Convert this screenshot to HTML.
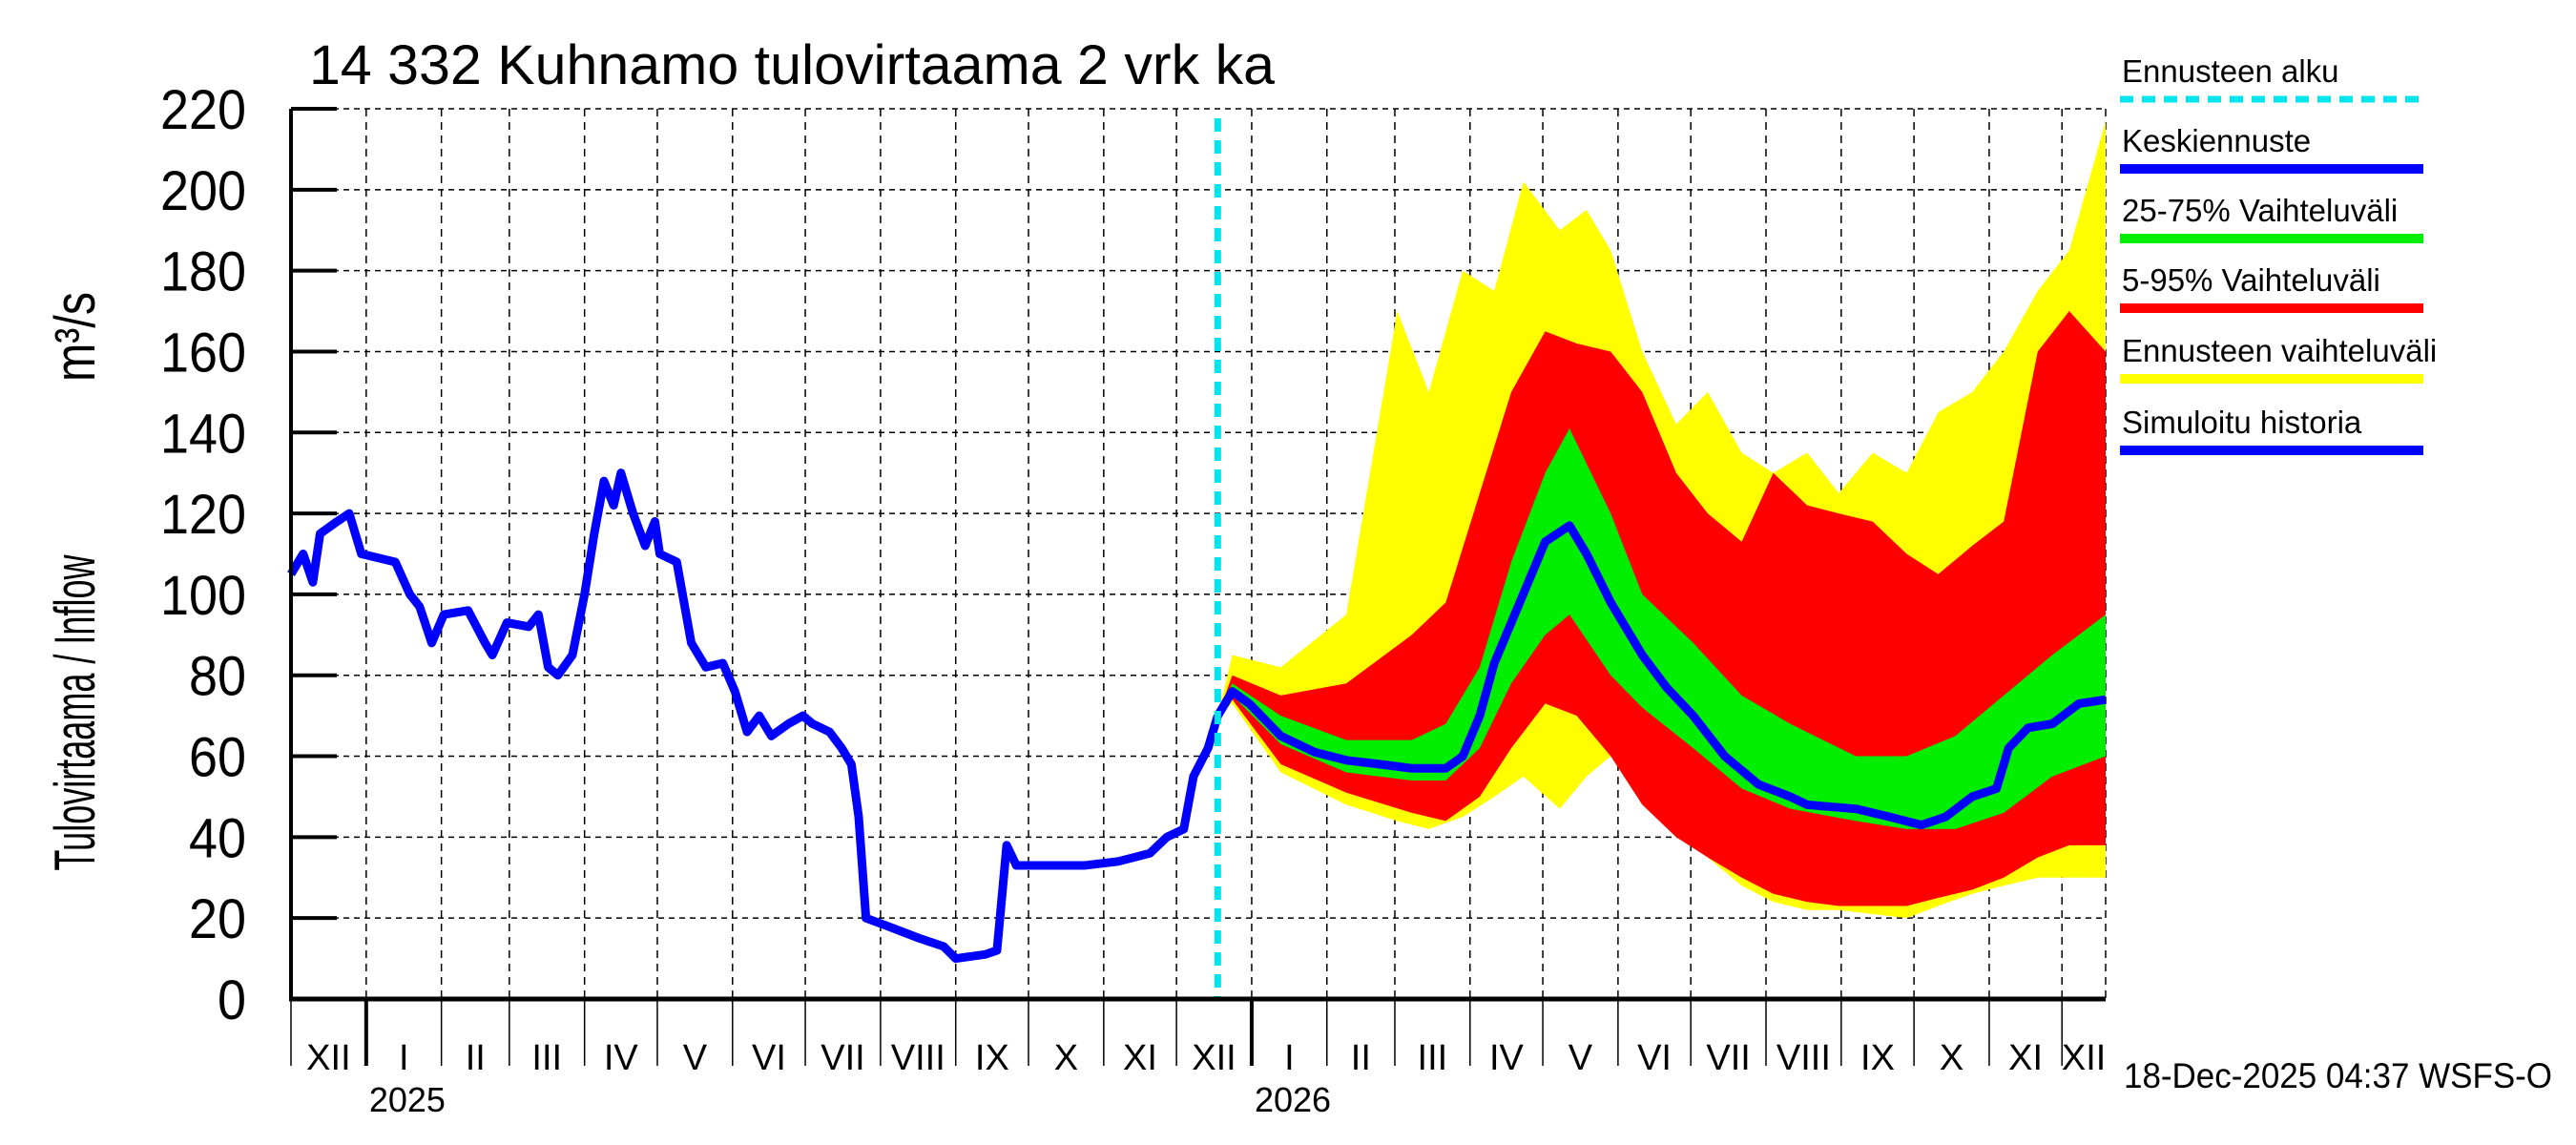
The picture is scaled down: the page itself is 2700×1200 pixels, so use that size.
<!DOCTYPE html>
<html><head><meta charset="utf-8"><style>
body{margin:0;background:#fff}
svg{display:block;font-family:"Liberation Sans",sans-serif}
</style></head><body>
<svg id="chart" width="2700" height="1200" viewBox="0 0 2700 1200" xmlns="http://www.w3.org/2000/svg">
<text x="324" y="88" font-size="58" textLength="1012" lengthAdjust="spacingAndGlyphs">14 332 Kuhnamo tulovirtaama 2 vrk ka</text>
<text transform="translate(99,747) rotate(-90)" text-anchor="middle" font-size="60" textLength="331" lengthAdjust="spacingAndGlyphs">Tulovirtaama / Inflow</text>
<text transform="translate(99,353) rotate(-90)" text-anchor="middle" font-size="60" textLength="94" lengthAdjust="spacingAndGlyphs">m³/s</text>
<text x="2226" y="1140" font-size="37" textLength="449" lengthAdjust="spacingAndGlyphs">18-Dec-2025 04:37 WSFS-O</text>
<g id="grid"></g><g id="bands"></g><g id="lines"></g><g id="axes"></g><g id="legend"></g>
</svg>
<script>
const yTicks=[0,20,40,60,80,100,120,140,160,180,200,220];
const monthLabels=["XII","I","II","III","IV","V","VI","VII","VIII","IX","X","XI","XII","I","II","III","IV","V","VI","VII","VIII","IX","X","XI","XII"];
const monthStarts=[0,31,62,90,121,151,182,212,243,274,304,335,365,396,427,455,486,516,547,577,608,639,669,700,730];
const yearLabels=["2025","2026"];
const yearStarts=[31,396];
const forecastStart=382;
const histDays=[0,5,9,12,19,24,29,43,49,53,58,63,73,80,83,89,98,102,106,110,116,121,125,129,133,136,141,146,150,152,159,165,171,178,183,188,193,198,205,211,215,222,227,231,234,237,246,259,269,274,286,291,295,299,313,327,341,354,361,368,372,378,382];
const histVals=[105,110,103,115,118,120,110,108,100,97,88,95,96,88,85,93,92,95,82,80,85,100,115,128,122,130,120,112,118,110,108,88,82,83,76,66,70,65,68,70,68,66,62,58,45,20,18,15,13,10,11,12,38,33,33,33,34,36,40,42,55,62,70];
const medDays=[382,388,395,408,422,435,449,462,476,483,490,496,503,510,517,527,534,544,557,567,578,591,605,618,625,645,659,672,682,693,703,708,716,726,737,748];
const medVals=[70,76,73,65,61,59,58,57,57,60,70,83,93,103,113,117,110,98,85,77,70,60,53,50,48,47,45,43,45,50,52,62,67,68,73,74];
const gDays=[382,388,408,435,462,476,490,503,517,527,544,557,578,598,618,645,666,686,706,726,748];
const gLow=[70,75,63,56,54,54,62,78,90,95,80,72,62,52,47,44,42,42,46,55,60];
const gHigh=[70,78,70,64,64,68,82,108,130,141,120,100,88,75,68,60,60,65,75,85,95];
const rDays=[382,388,408,435,462,476,490,503,517,530,544,557,571,584,598,611,625,638,652,666,679,693,706,720,733,748];
const rLow=[70,74,58,51,46,44,50,62,73,70,60,48,40,35,30,26,24,23,23,23,25,27,30,35,38,38];
const rHigh=[70,80,75,78,90,98,125,150,165,162,160,150,130,120,113,130,122,120,118,110,105,112,118,160,170,160];
const yDays=[382,388,408,435,456,469,483,496,508,523,534,544,557,571,584,598,611,625,638,652,666,679,693,706,720,733,748];
const yLow=[70,73,56,48,44,42,45,50,55,47,55,60,55,45,35,28,24,22,22,21,20,23,26,28,30,30,30];
const yHigh=[70,85,82,95,170,150,180,175,202,190,195,185,160,142,150,135,130,135,125,135,130,145,150,160,175,185,217];

const L=305,R=2207,T=114,B=1047,DMAX=748;
const X=d=>L+d*(R-L)/DMAX, Y=v=>B-v*(B-T)/220;
const NS="http://www.w3.org/2000/svg";
function mk(tag,parent,attrs){const e=document.createElementNS(NS,tag);for(const k in attrs)e.setAttribute(k,attrs[k]);document.getElementById(parent).appendChild(e);return e;}
yTicks.forEach(v=>{if(v===0)return;const e=mk('line','grid',{x1:L,x2:R,y1:Y(v),y2:Y(v),stroke:'#000','stroke-width':1.5,'stroke-dasharray':'6,5'});

});
monthStarts.forEach(d=>{if(d===0)return;const e=mk('line','grid',{x1:X(d),x2:X(d),y1:T,y2:B,stroke:'#000','stroke-width':1.5,'stroke-dasharray':'8,6'});

});
{const e=mk('line','grid',{x1:R,x2:R,y1:T,y2:B,stroke:'#000','stroke-width':1.5,'stroke-dasharray':'8,6'});

}
function band(days,lo,hi,color,name){let p=days.map((d,i)=>X(d)+','+Y(hi[i])).join(' ');p+=' '+days.slice().reverse().map((d,i)=>X(d)+','+Y(lo[days.length-1-i])).join(' ');
const e=mk('polygon','bands',{points:p,fill:color});

}
band(yDays,yLow,yHigh,'#ffff00','forecast-range-band');
band(rDays,rLow,rHigh,'#ff0000','band-5-95');
band(gDays,gLow,gHigh,'#00ee00','band-25-75');
function line(days,vals,name){const e=mk('polyline','lines',{points:days.map((d,i)=>X(d)+','+Y(vals[i])).join(' '),fill:'none',stroke:'#0000ff','stroke-width':9,'stroke-linejoin':'round'});

}
line(histDays,histVals,'simulated-history-line');
line(medDays,medVals,'median-forecast-line');
{const e=mk('line','lines',{x1:X(forecastStart),x2:X(forecastStart),y1:T+10,y2:B,stroke:'#00e5ee','stroke-width':7,'stroke-dasharray':'14,9'});

}
{const e=mk('line','axes',{x1:L,x2:L,y1:T,y2:B+2,stroke:'#000','stroke-width':4});

}
{const e=mk('line','axes',{x1:L-2,x2:R,y1:B,y2:B,stroke:'#000','stroke-width':5});

}
yTicks.forEach(v=>{const t=mk('line','axes',{x1:L,x2:L+48,y1:Y(v),y2:Y(v),stroke:'#000','stroke-width':4});


const e=mk('text','axes',{x:258,y:Y(v)+21,'text-anchor':'end','font-size':58});e.textContent=v;
e.setAttribute('textLength',String(v).length*30);
e.setAttribute('lengthAdjust','spacingAndGlyphs');

});
monthStarts.forEach((d,i)=>{const t=mk('line','axes',{x1:X(d),x2:X(d),y1:B,y2:1117,stroke:'#000','stroke-width':1.5});


const end=i+1<monthStarts.length?monthStarts[i+1]:DMAX;
const e=mk('text','axes',{x:(X(d)+X(end))/2,y:1121,'text-anchor':'middle','font-size':38});e.textContent=monthLabels[i];

});
yearStarts.forEach((d,i)=>{const t=mk('line','axes',{x1:X(d),x2:X(d),y1:B,y2:1117,stroke:'#000','stroke-width':4});


const e=mk('text','axes',{x:X(d)+3,y:1165,'font-size':36});e.textContent=yearLabels[i];

});
const legendItems=[["Ennusteen alku","#00e5ee",true],["Keskiennuste","#0000ff",false],["25-75% Vaihteluväli","#00ee00",false],["5-95% Vaihteluväli","#ff0000",false],["Ennusteen vaihteluväli","#ffff00",false],["Simuloitu historia","#0000ff",false]];
const legendY=[74,147,220,293,367,442];
legendItems.forEach((it,i)=>{const y=legendY[i];
const e=mk('text','legend',{x:2224,y:y+12,'font-size':33});e.textContent=it[0];


const l=mk('line','legend',{x1:2222,x2:2540,y1:y+30,y2:y+30,stroke:it[1],'stroke-width':it[2]?7:10});
if(it[2])l.setAttribute('stroke-dasharray','14,9');

});
</script>
</body></html>
